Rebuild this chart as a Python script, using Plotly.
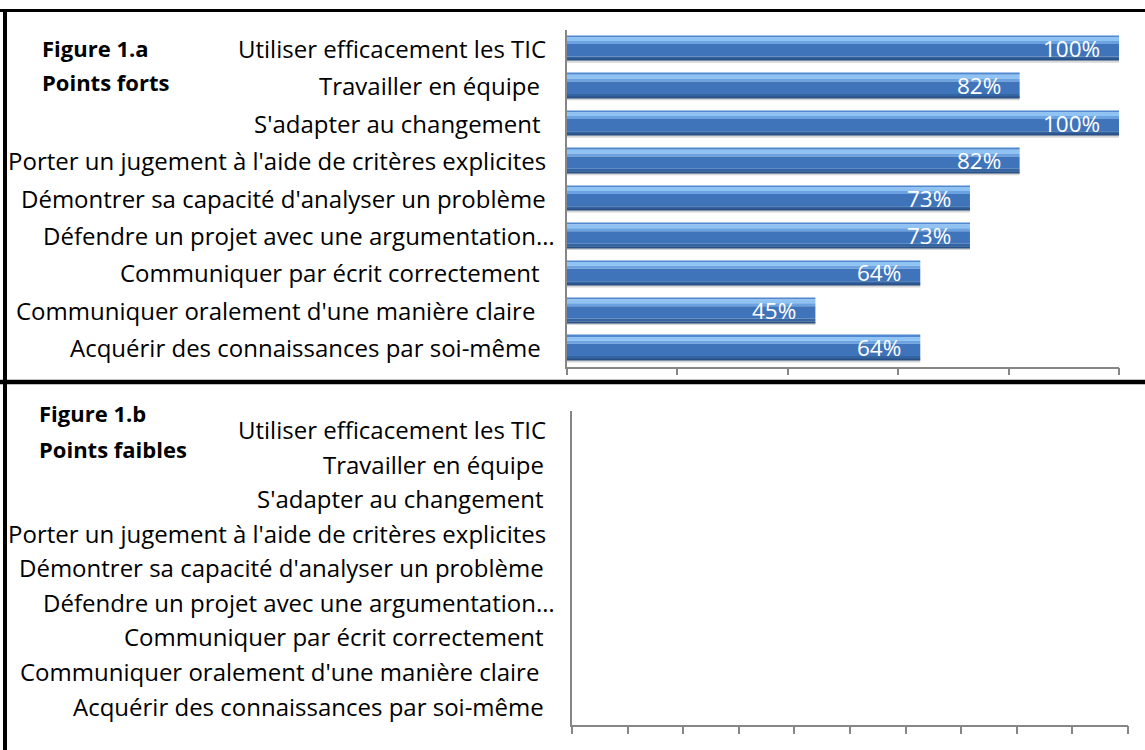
import plotly.graph_objects as go

categories = [
    "Utiliser efficacement les TIC",
    "Travailler en équipe",
    "S'adapter au changement",
    "Porter un jugement à l'aide de critères explicites",
    "Démontrer sa capacité d'analyser un problème",
    "Défendre un projet avec une argumentation…",
    "Communiquer par écrit correctement",
    "Communiquer oralement d'une manière claire",
    "Acquérir des connaissances par soi-même",
]
points_forts = [100, 82, 100, 82, 73, 73, 64, 45, 64]
points_faibles = [0, 0, 0, 0, 0, 0, 0, 0, 0]
title_a = ["Figure 1.a", "Points forts"]
title_b = ["Figure 1.b", "Points faibles"]

# style: per-label horizontal nudges (pixels) mimicking trailing spaces / overflow
shift_top = [0, -6, -5, 0, 0, 9, -6, -11, -5]
shift_bot = [0, -2, -2, 0, -2, 9, -2, -7, -2]

FONT = "Open Sans, Calibri, Carlito, sans-serif"
W, H = 1145, 750

def px_x(p):
    return p / W

def px_y(p):
    return 1 - p / H

fig = go.Figure()

# shadow
fig.add_trace(go.Bar(x=points_forts, y=categories, orientation="h",
                     width=0.09, offset=0.30, marker_color="rgba(0,0,0,0.16)",
                     marker_line_width=0, xaxis="x", yaxis="y", hoverinfo="skip"))
stripes = [
    (-0.33, 0.04, "#4f88cf"),
    (-0.29, 0.10, "#8fc3f3"),
    (-0.19, 0.08, "#6ba3e2"),
    (-0.11, 0.33, "#3f74ba"),
    (0.22, 0.08, "#3465a3"),
    (0.30, 0.03, "#294f84"),
]
for off, wd, col in stripes:
    fig.add_trace(go.Bar(x=points_forts, y=categories, orientation="h",
                         width=wd, offset=off, marker_color=col,
                         marker_line_width=0, xaxis="x", yaxis="y"))

fig.add_trace(go.Bar(x=points_faibles, y=categories, orientation="h",
                     width=0.66, marker_color="#3f74ba", marker_line_width=0,
                     xaxis="x2", yaxis="y2"))

annotations = []
for c, v in zip(categories, points_forts):
    annotations.append(dict(x=v, y=c, xref="x", yref="y", text=f"{v}%",
                            showarrow=False, xanchor="right", xshift=-17,
                            font=dict(family=FONT, size=22.5, color="white")))
for c, s in zip(categories, shift_top):
    annotations.append(dict(x=0, y=c, xref="x domain", yref="y", text=c,
                            showarrow=False, xanchor="right", xshift=-19 + s,
                            font=dict(family=FONT, size=24, color="black")))
for c, s in zip(categories, shift_bot):
    annotations.append(dict(x=0, y=c, xref="x2 domain", yref="y2", text=c,
                            showarrow=False, xanchor="right", xshift=-24 + s,
                            font=dict(family=FONT, size=24, color="black")))

for txt, yy in zip(title_a, [48, 82]):
    annotations.append(dict(x=px_x(40), y=px_y(yy), xref="paper", yref="paper",
                            text=f"<b>{txt}</b>", showarrow=False, xanchor="left",
                            yanchor="middle",
                            font=dict(family=FONT, size=22, color="black")))
for txt, yy in zip(title_b, [413, 449]):
    annotations.append(dict(x=px_x(37), y=px_y(yy), xref="paper", yref="paper",
                            text=f"<b>{txt}</b>", showarrow=False, xanchor="left",
                            yanchor="middle",
                            font=dict(family=FONT, size=22, color="black")))

shapes = [
    dict(type="line", xref="paper", yref="paper", x0=0, x1=1,
         y0=px_y(10.5), y1=px_y(10.5), line=dict(color="black", width=3)),
    dict(type="line", xref="paper", yref="paper", x0=0, x1=1,
         y0=px_y(382), y1=px_y(382), line=dict(color="black", width=4.5)),
    dict(type="line", xref="paper", yref="paper", x0=px_x(5), x1=px_x(5),
         y0=px_y(9), y1=0, line=dict(color="black", width=4)),
]

axis_common = dict(showgrid=False, zeroline=False, showline=True,
                   linecolor="#868686", linewidth=1.5, mirror=False)

fig.update_layout(
    width=W, height=H,
    margin=dict(l=0, r=0, t=0, b=0),
    paper_bgcolor="white", plot_bgcolor="white",
    showlegend=False, barmode="overlay",
    font=dict(family=FONT),
    xaxis=dict(domain=[px_x(567), px_x(1119)], anchor="y", range=[0, 100],
               tickmode="linear", tick0=0, dtick=20, ticks="outside",
               ticklen=7, tickwidth=1.5, tickcolor="#868686",
               showticklabels=False, **axis_common),
    yaxis=dict(domain=[px_y(366.5), px_y(29.5)], anchor="x", type="category",
               categoryarray=categories, autorange="reversed",
               showticklabels=False, ticks="", **axis_common),
    xaxis2=dict(domain=[px_x(572), px_x(1128)], anchor="y2", range=[0, 100],
                tickmode="linear", tick0=0, dtick=10, ticks="outside",
                ticklen=8, tickwidth=1.5, tickcolor="#868686",
                showticklabels=False, **axis_common),
    yaxis2=dict(domain=[px_y(724.5), px_y(411)], anchor="x2", type="category",
                categoryarray=categories, autorange="reversed",
                showticklabels=False, ticks="", **axis_common),
    annotations=annotations,
    shapes=shapes,
)

fig.write_html("out.html", config={"displayModeBar": False},
               post_script="document.body.style.margin='0px';document.body.style.overflow='hidden';")
